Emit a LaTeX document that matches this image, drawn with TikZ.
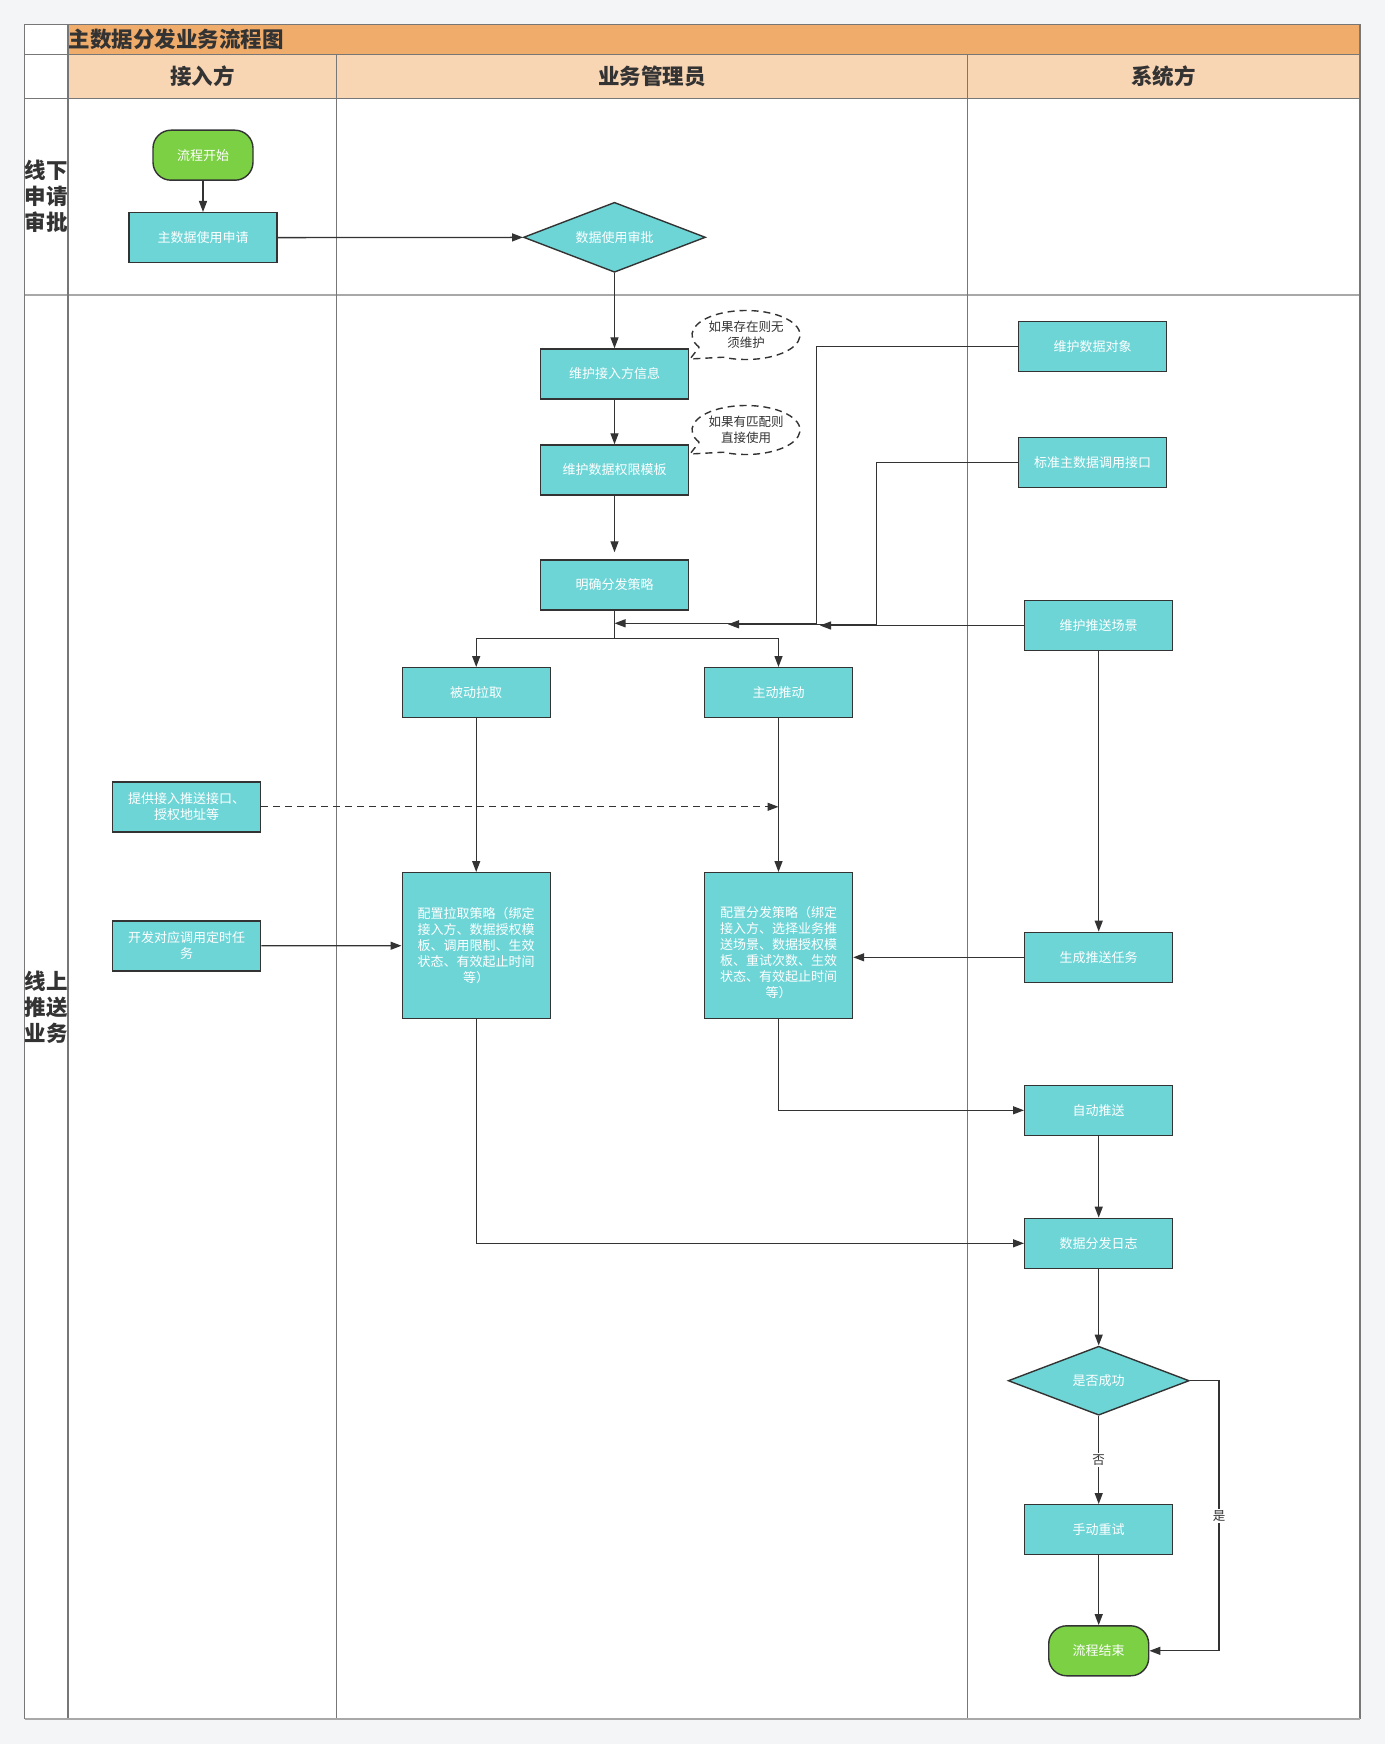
\documentclass[tikz,border=0pt]{standalone}
\usepackage{fontspec}
\setmainfont{Noto Sans CJK SC}
\usetikzlibrary{shapes.geometric,arrows.meta,calc}
\definecolor{pagebg}{HTML}{F4F5F7}
\definecolor{tealC}{HTML}{6ED5D7}
\definecolor{greenC}{HTML}{7BD043}
\definecolor{lineC}{HTML}{333333}
\definecolor{gridC}{HTML}{777777}
\definecolor{gridL}{HTML}{A8A8A8}
\definecolor{titleC}{HTML}{F0AC6A}
\definecolor{headC}{HTML}{F8D5B3}
\definecolor{hdrC}{HTML}{333333}
\definecolor{noteC}{HTML}{333333}
\begin{document}
\begin{tikzpicture}[x=1pt,y=-1pt,
 proc/.style={draw=lineC, line width=1.4pt, fill=tealC, minimum width=148pt, minimum height=50pt, inner sep=0pt, text=white, font=\fontsize{13}{16}\selectfont, align=center},
 term/.style={proc, fill=greenC, minimum width=100pt, rounded corners=18pt},
 dec/.style={diamond, draw=lineC, line width=1.4pt, fill=tealC, minimum width=182pt, minimum height=70pt, inner sep=0pt},
 dectext/.style={label={[text=white, font=\fontsize{13}{16}\selectfont, inner sep=0pt]center:#1}},
 flow/.style={draw=lineC, line width=1.3pt, -{Triangle[length=11pt,width=8pt]}},
 plain/.style={draw=lineC, line width=1.3pt},
 notebox/.style={ellipse, minimum width=108pt, minimum height=49pt, inner sep=0pt, text=noteC, font=\fontsize{12.5}{15.5}\selectfont, align=center},
 callout/.style={draw=lineC, line width=1.4pt, dash pattern=on 7pt off 5pt},
 hdr/.style={font=\fontsize{21.5}{26}\selectfont\bfseries, text=hdrC, inner sep=0pt},
 rowlbl/.style={font=\fontsize{21.5}{25.8}\selectfont\bfseries, text=hdrC, inner sep=0pt, align=center},
 lanerule/.style={draw=gridC, line width=1.2pt},
 lbl/.style={fill=white, inner sep=1.5pt, text=noteC, font=\fontsize{12.5}{15}\selectfont},
]
% page and frame
\fill[pagebg] (0,0) rectangle (1385,1744);
\useasboundingbox (0,0) rectangle (1385,1744);
\fill[white] (24.5,24.5) rectangle (1360,1719);
\fill[titleC] (68,24.5) rectangle (1360,54.3);
\fill[headC] (68,54.3) rectangle (1360,98.3);
\draw[lanerule] (24.5,54.3) -- (1360,54.3);
\draw[lanerule] (24.5,98.3) -- (1360,98.3);
\draw[draw=gridL, line width=2pt] (24.5,295) -- (1360,295);
\draw[lanerule] (68,24.5) -- (68,1719);
\draw[lanerule] (336.6,54.3) -- (336.6,1719);
\draw[lanerule] (967.5,54.3) -- (967.5,1719);
\draw[lanerule] (24.5,1719) -- (24.5,24.5) -- (1360,24.5) -- (1360,1719);
\draw[draw=gridL, line width=2pt] (24.5,1719) -- (1360,1719);

% titles
\node[hdr, anchor=west] (title) at (68.5,39.5) {主数据分发业务流程图};
\node[hdr] (hA) at (202.3,76.3) {接入方};
\node[hdr] (hB) at (652,76.3) {业务管理员};
\node[hdr] (hC) at (1163.7,76.3) {系统方};
\node[rowlbl] (r1) at (46.3,196) {线下\\申请\\审批};
\node[rowlbl] (r2) at (46.3,1007) {线上\\推送\\业务};

% nodes
\node[term] (start) at (203,155.2) {流程开始};
\node[proc] (apply) at (203,237.7) {主数据使用申请};
\node[dec, dectext=数据使用审批] (approve) at (614.5,237.3) {};
\node[proc] (maintAccess) at (614.5,374) {维护接入方信息};
\node[proc] (maintTpl) at (614.5,470) {维护数据权限模板};
\node[proc] (strategy) at (614.5,585) {明确分发策略};
\node[proc] (pull) at (476.2,692.7) {被动拉取};
\node[proc] (push) at (778.5,692.7) {主动推动};
\node[proc] (provide) at (186.6,806.8) {提供接入推送接口、\\授权地址等};
\node[proc] (devTask) at (186.6,945.8) {开发对应调用定时任\\务};
\node[proc, minimum height=146pt] (cfgPull) at (476.2,945.7) {配置拉取策略（绑定\\接入方、数据授权模\\板、调用限制、生效\\状态、有效起止时间\\等）};
\node[proc, minimum height=146pt, label={[text=white, font=\fontsize{13}{16}\selectfont, align=center, inner sep=0pt, yshift=-7pt]center:{配置分发策略（绑定\\接入方、选择业务推\\送场景、数据授权模\\板、重试次数、生效\\状态、有效起止时间\\等）}}] (cfgPush) at (778.5,945.7) {};
\node[proc] (sysObj) at (1092.6,346.7) {维护数据对象};
\node[proc] (sysApi) at (1092.6,462.5) {标准主数据调用接口};
\node[proc] (sysScene) at (1098.7,625.5) {维护推送场景};
\node[proc] (genTask) at (1098.7,957.3) {生成推送任务};
\node[proc] (autoPush) at (1098.7,1110.3) {自动推送};
\node[proc] (log) at (1098.7,1243.3) {数据分发日志};
\node[dec, minimum width=181pt, minimum height=69pt, dectext=是否成功] (success) at (1098.7,1380.7) {};
\node[proc] (retry) at (1098.7,1529.7) {手动重试};
\node[term] (finish) at (1098.7,1650.8) {流程结束};

% notes (callouts)
\node[notebox] (note1) at (746,335) {如果存在则无\\须维护};
\node[notebox] (note2) at (746,430) {如果有匹配则\\直接使用};
\draw[callout] ([shift={(150:54 and 24.5)}]note1.center) arc[start angle=150, end angle=475, x radius=54, y radius=24.5] -- (690,359) -- cycle;
\draw[callout] ([shift={(150:54 and 24.5)}]note2.center) arc[start angle=150, end angle=475, x radius=54, y radius=24.5] -- (690,454) -- cycle;

% junction coordinates
\coordinate (br) at (614.5,638.7);
\coordinate (jA) at (816.7,623.3);
\coordinate (mA) at (614.5,623.3);
\coordinate (jB) at (876.5,624.3);
\coordinate (mB) at (728,624.3);
\coordinate (mC) at (820,625.5);
\coordinate (jYes) at (1219,1380.7);

% connectors
\draw[flow] (start) -- (apply);
\draw[flow] (apply) -- (approve);
\draw[flow] (approve) -- (maintAccess);
\draw[flow] (maintAccess) -- (maintTpl);
\draw[flow, shorten >=7pt] (maintTpl) -- (strategy);
\draw[plain] (strategy.south) -- (br);
\draw[flow] (br) -| (pull.north);
\draw[flow] (br) -| (push.north);
\draw[flow] (sysObj.west) -| (jA) -- (mA);
\draw[flow] (sysApi.west) -| (jB) -- (mB);
\draw[flow] (sysScene.west) -- (mC);
\draw[flow, dash pattern=on 7pt off 5pt] (provide.east) -- (provide.east -| push.south);
\draw[flow] (pull) -- (cfgPull);
\draw[flow] (push) -- (cfgPush);
\draw[flow] (devTask) -- (cfgPull);
\draw[flow] (sysScene) -- (genTask);
\draw[flow] (genTask.west) -- (genTask.west -| cfgPush.east);
\draw[flow] (cfgPush.south) |- (autoPush.west);
\draw[flow] (cfgPull.south) |- (log.west);
\draw[flow] (autoPush) -- (log);
\draw[flow] (log) -- (success);
\draw[flow] (success) -- node[lbl] {否} (retry);
\draw[flow] (success.east) -- (jYes) -- node[lbl] {是} (jYes |- finish.east) -- (finish.east);
\draw[flow] (retry) -- (finish);
\end{tikzpicture}
\end{document}
